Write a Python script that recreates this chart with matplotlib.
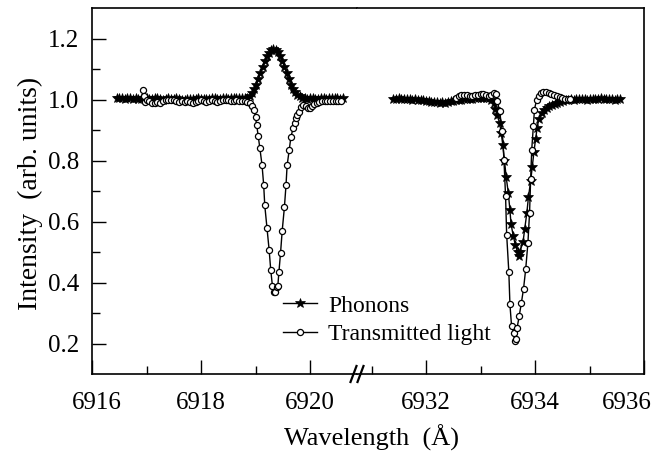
import matplotlib
matplotlib.use('Agg')
import matplotlib.pyplot as plt
from matplotlib.lines import Line2D
from matplotlib.transforms import ScaledTranslation

plt.rcParams['font.family'] = ['Liberation Serif', 'DejaVu Serif']

# ---- data ----
# left block, phonons
ph_left_x = [6916.45, 6916.50, 6916.55, 6916.60, 6916.65, 6916.70, 6916.75, 6916.80,
             6916.85, 6916.90, 6916.95, 6917.00, 6917.05, 6917.10, 6917.15, 6917.20,
             6917.25, 6917.30, 6917.35, 6917.40, 6917.45, 6917.50, 6917.55, 6917.60,
             6917.65, 6917.70, 6917.75, 6917.80, 6917.85, 6917.90, 6917.95, 6918.00,
             6918.05, 6918.10, 6918.15, 6918.20, 6918.25, 6918.30, 6918.35, 6918.40,
             6918.45, 6918.50, 6918.55, 6918.60, 6918.65, 6918.70, 6918.75, 6918.80,
             6918.85, 6918.89, 6918.93, 6918.97, 6919.01, 6919.05, 6919.09, 6919.13,
             6919.17, 6919.21, 6919.25, 6919.29, 6919.33, 6919.37, 6919.41, 6919.45,
             6919.49, 6919.53, 6919.57, 6919.61, 6919.65, 6919.69, 6919.73, 6919.77,
             6919.81, 6919.85, 6919.90, 6919.95, 6920.00, 6920.05, 6920.10, 6920.15,
             6920.20, 6920.25, 6920.30, 6920.35, 6920.40, 6920.45, 6920.50, 6920.55,
             6920.60]
ph_left_y = [1.006, 1.004, 1.005, 1.003, 1.006, 1.004, 1.002, 1.005,
             1.003, 1.001, 1.004, 1.006, 1.003, 1.002, 1.004, 1.005,
             1.002, 1.000, 1.003, 1.004, 1.001, 1.002, 1.004, 1.003,
             1.000, 0.999, 1.002, 1.003, 1.001, 1.002, 1.004, 1.003,
             1.001, 1.002, 1.003, 1.005, 1.004, 1.002, 1.003, 1.005,
             1.004, 1.003, 1.005, 1.006, 1.004, 1.005, 1.006, 1.005,
             1.006, 1.012, 1.022, 1.034, 1.048, 1.066, 1.088, 1.108,
             1.126, 1.142, 1.154, 1.162, 1.165, 1.163, 1.156, 1.143,
             1.127, 1.108, 1.087, 1.066, 1.048, 1.034, 1.024, 1.016,
             1.010, 1.006, 1.004, 1.003, 1.005, 1.004, 1.002, 1.003,
             1.005, 1.004, 1.003, 1.005, 1.004, 1.006, 1.005, 1.003,
             1.004]

# left block, transmitted light
tr_left_x = [6916.94, 6916.96, 6916.98, 6917.00, 6917.05, 6917.10, 6917.15, 6917.20,
             6917.25, 6917.30, 6917.35, 6917.40, 6917.45, 6917.50, 6917.55, 6917.60,
             6917.65, 6917.70, 6917.75, 6917.80, 6917.85, 6917.90, 6917.95, 6918.00,
             6918.05, 6918.10, 6918.15, 6918.20, 6918.25, 6918.30, 6918.35, 6918.40,
             6918.45, 6918.50, 6918.55, 6918.60, 6918.65, 6918.70, 6918.75, 6918.80,
             6918.85, 6918.90, 6918.94, 6918.98, 6919.00, 6919.02, 6919.05, 6919.08,
             6919.12, 6919.15, 6919.17, 6919.21, 6919.25, 6919.28, 6919.31, 6919.34,
             6919.36, 6919.39, 6919.41, 6919.43, 6919.46, 6919.49, 6919.53, 6919.56,
             6919.58, 6919.62, 6919.65, 6919.69, 6919.72, 6919.74, 6919.76, 6919.80,
             6919.84, 6919.88, 6919.92, 6919.96, 6920.00, 6920.04, 6920.08, 6920.12,
             6920.17, 6920.22, 6920.27, 6920.32, 6920.37, 6920.42, 6920.47, 6920.52,
             6920.56]
tr_left_y = [1.030, 1.010, 0.993, 0.998, 0.995, 0.990, 0.988, 0.992,
             0.989, 0.994, 0.997, 0.998, 0.997, 0.998, 0.996, 0.993,
             0.994, 0.992, 0.994, 0.991, 0.990, 0.993, 0.996, 0.997,
             0.995, 0.992, 0.996, 0.998, 0.996, 0.993, 0.995, 0.997,
             0.999, 0.998, 0.996, 0.994, 0.997, 0.996, 0.995, 0.994,
             0.992, 0.988, 0.980, 0.965, 0.942, 0.918, 0.880, 0.840,
             0.785, 0.720, 0.653, 0.580, 0.507, 0.440, 0.390, 0.370,
             0.368, 0.385, 0.390, 0.435, 0.498, 0.570, 0.646, 0.720,
             0.784, 0.836, 0.878, 0.905, 0.922, 0.940, 0.950, 0.958,
             0.975, 0.982, 0.978, 0.972, 0.973, 0.978, 0.985, 0.990,
             0.993, 0.995, 0.994, 0.996, 0.995, 0.994, 0.996, 0.995,
             0.996]

# right block, phonons
ph_right_x = [6931.40, 6931.45, 6931.50, 6931.55, 6931.60, 6931.65, 6931.70, 6931.75,
              6931.80, 6931.85, 6931.90, 6931.95, 6932.00, 6932.05, 6932.10, 6932.15,
              6932.20, 6932.25, 6932.30, 6932.35, 6932.40, 6932.45, 6932.50, 6932.55,
              6932.60, 6932.65, 6932.70, 6932.75, 6932.80, 6932.85, 6932.90, 6932.95,
              6933.00, 6933.05, 6933.10, 6933.15, 6933.20, 6933.25, 6933.27, 6933.30,
              6933.35, 6933.38, 6933.41, 6933.44, 6933.47, 6933.51, 6933.54, 6933.56,
              6933.60, 6933.64, 6933.68, 6933.71, 6933.72, 6933.78, 6933.81, 6933.85,
              6933.88, 6933.92, 6933.95, 6933.98, 6934.01, 6934.04, 6934.07, 6934.12,
              6934.17, 6934.22, 6934.26, 6934.31, 6934.36, 6934.41, 6934.46, 6934.51,
              6934.56, 6934.61, 6934.66, 6934.71, 6934.76, 6934.81, 6934.86, 6934.91,
              6934.96, 6935.01, 6935.06, 6935.11, 6935.16, 6935.21, 6935.26, 6935.31,
              6935.36, 6935.41, 6935.46, 6935.51, 6935.56]
ph_right_y = [1.003, 1.002, 1.004, 1.002, 1.001, 1.003, 1.002, 1.000,
              1.001, 0.999, 0.998, 0.997, 0.996, 0.995, 0.993, 0.992,
              0.991, 0.990, 0.991, 0.990, 0.992, 0.994, 0.996, 0.998,
              0.999, 1.000, 1.001, 1.002, 1.003, 1.003, 1.004, 1.004,
              1.005, 1.006, 1.005, 1.004, 1.000, 0.988, 0.970, 0.950,
              0.924, 0.890, 0.850, 0.800, 0.747, 0.694, 0.637, 0.592,
              0.554, 0.522, 0.500, 0.486, 0.500, 0.532, 0.574, 0.628,
              0.680, 0.732, 0.780, 0.827, 0.870, 0.907, 0.937, 0.956,
              0.965, 0.972, 0.978, 0.982, 0.985, 0.988, 0.991, 0.994,
              0.997, 0.999, 1.001, 1.000, 1.002, 1.001, 1.003, 1.002,
              1.000, 1.002, 1.003, 1.001, 1.002, 1.004, 1.002, 1.001,
              1.003, 1.002, 1.000, 1.002, 1.001]

# right block, transmitted light
tr_right_x = [6932.55, 6932.60, 6932.65, 6932.70, 6932.75, 6932.80, 6932.85, 6932.90,
              6932.95, 6933.00, 6933.05, 6933.10, 6933.15, 6933.20, 6933.24, 6933.28,
              6933.31, 6933.35, 6933.40, 6933.43, 6933.46, 6933.48, 6933.52, 6933.54,
              6933.57, 6933.61, 6933.63, 6933.65, 6933.67, 6933.71, 6933.75, 6933.79,
              6933.83, 6933.87, 6933.90, 6933.92, 6933.94, 6933.97, 6933.99, 6934.03,
              6934.07, 6934.11, 6934.15, 6934.20, 6934.25, 6934.30, 6934.35, 6934.40,
              6934.45, 6934.50, 6934.55, 6934.60, 6934.64]
tr_right_y = [1.005, 1.010, 1.014, 1.016, 1.015, 1.013, 1.012, 1.014,
              1.016, 1.017, 1.018, 1.015, 1.012, 1.014, 1.020, 1.018,
              0.995, 0.962, 0.896, 0.803, 0.683, 0.557, 0.434, 0.328,
              0.257, 0.235, 0.207, 0.215, 0.250, 0.290, 0.333, 0.380,
              0.445, 0.530, 0.628, 0.738, 0.836, 0.912, 0.967, 1.000,
              1.012, 1.020, 1.023, 1.025, 1.022, 1.018, 1.014, 1.010,
              1.007, 1.004, 1.003, 1.002, 1.002]

left_ticks = [6916, 6918, 6920]
right_ticks = [6932, 6934, 6936]
y_ticks = [0.2, 0.4, 0.6, 0.8, 1.0, 1.2]

# ---- layout: two panels glued together, broken x axis ----
W, H = 663, 455
fig = plt.figure(figsize=(W / 100, H / 100), dpi=100)
x0, x1, xb = 92, 644, 357
y_top, y_bot = 8, 374
b = 1 - y_bot / H
h = (y_bot - y_top) / H
ax1 = fig.add_axes([x0 / W, b, (xb - x0) / W, h])
ax2 = fig.add_axes([xb / W, b, (x1 - xb) / W, h], sharey=ax1)

star = dict(color='black', lw=1.0, marker='*', ms=7.5, mfc='black', mec='black', mew=0.5)
circ = dict(color='black', lw=1.0, marker='o', ms=4.4, mfc='white', mec='black', mew=0.9)

for ax, px, py, tx, ty in [(ax1, ph_left_x, ph_left_y, tr_left_x, tr_left_y),
                           (ax2, ph_right_x, ph_right_y, tr_right_x, tr_right_y)]:
    ax.plot(px, py, **star)
    ax.plot(tx, ty, **circ)

ax1.set_xlim(6916, 6916 + (xb - x0) / 54.5)
ax2.set_xlim(6936 - (x1 - xb) / 54.5, 6936)
ax1.set_ylim(0.1, 1.3)

ax1.set_xticks(left_ticks)
ax1.set_xticks([6917, 6919], minor=True)
ax2.set_xticks(right_ticks)
ax2.set_xticks([6931, 6933, 6935], minor=True)
ax1.set_yticks(y_ticks)
ax1.set_yticks([0.3, 0.5, 0.7, 0.9, 1.1], minor=True)
ax1.set_yticklabels(['%.1f' % v for v in y_ticks])

for ax in (ax1, ax2):
    for s in ax.spines.values():
        s.set_linewidth(1.2)
    ax.tick_params(which='both', direction='in', top=False, right=False,
                   labelsize=18, width=1.0)
    ax.tick_params(axis='x', pad=13)
    ax.tick_params(axis='y', pad=9)
    ax.tick_params(which='major', length=10)
    ax.tick_params(which='minor', length=6)
ax1.spines['right'].set_visible(False)
ax2.spines['left'].set_visible(False)
ax2.tick_params(axis='y', which='both', left=False, labelleft=False)

# end labels sit a little inward, as in the original
lbl = ax1.get_xticklabels()[0]
lbl.set_transform(lbl.get_transform() + ScaledTranslation(5 / 100, 0, fig.dpi_scale_trans))
lbl = ax2.get_xticklabels()[-1]
lbl.set_transform(lbl.get_transform() + ScaledTranslation(-17 / 100, 0, fig.dpi_scale_trans))

# break marks on the bottom axis
for dx in (-3.5, 3.5):
    cx = xb + dx
    fig.add_artist(Line2D([(cx - 3) / W, (cx + 3) / W],
                          [1 - (y_bot + 8) / H, 1 - (y_bot - 8) / H],
                          color='black', lw=1.6, transform=fig.transFigure))

fig.text(30 / W, 1 - 193 / H, 'Intensity  (arb. units)', rotation=90,
         ha='center', va='center', fontsize=20)
fig.text(372 / W, 1 - 438 / H, 'Wavelength  (Å)',
         ha='center', va='center', fontsize=19)

handles = [Line2D([], [], **star), Line2D([], [], **circ)]
fig.legend(handles, ['Phonons', 'Transmitted light'], loc='upper left',
           bbox_to_anchor=(283 / W, 1 - 295 / H), frameon=False, fontsize=17,
           handlelength=1.45, handletextpad=0.45, labelspacing=0.3,
           borderpad=0, borderaxespad=0)

plt.savefig('out.png', dpi=100)
